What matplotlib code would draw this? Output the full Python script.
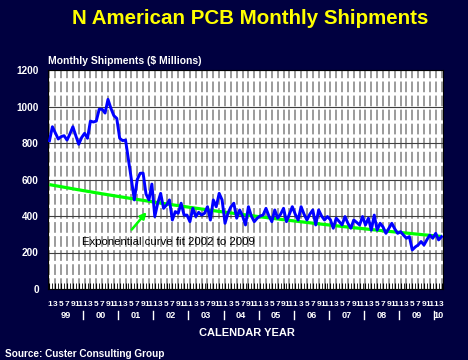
import numpy as np
import matplotlib.pyplot as plt

plt.rcParams['font.family'] = ['Liberation Sans', 'DejaVu Sans']

# monthly shipments, $ millions, Jan 1999 .. Mar 2010
ship_1999 = [812, 889, 855, 822, 835, 840, 816, 850, 889, 840, 793, 830]
ship_2000 = [853, 826, 920, 915, 920, 985, 985, 964, 1039, 990, 950, 935]
ship_2001 = [826, 813, 816, 710, 600, 488, 600, 634, 635, 520, 488, 575]
ship_2002 = [397, 470, 524, 442, 460, 488, 378, 424, 415, 470, 405, 405]
ship_2003 = [369, 442, 397, 420, 405, 415, 451, 378, 488, 451, 524, 488]
ship_2004 = [360, 415, 450, 470, 388, 433, 400, 351, 451, 400, 369, 388]
ship_2005 = [400, 405, 442, 400, 369, 433, 388, 410, 442, 369, 410, 451]
ship_2006 = [410, 378, 451, 410, 378, 410, 433, 351, 433, 400, 378, 397]
ship_2007 = [380, 333, 388, 370, 351, 397, 360, 333, 378, 365, 351, 397]
ship_2008 = [351, 388, 323, 405, 323, 360, 340, 305, 333, 360, 330, 305]
ship_2009 = [314, 295, 278, 287, 214, 230, 241, 260, 241, 270, 296, 278]
ship_2010 = [305, 269, 287]

years = ['99', '00', '01', '02', '03', '04', '05', '06', '07', '08', '09', '10']
month_labels = ['1', '3', '5', '7', '9', '11']

# exponential fit 2002-2009 as drawn: value at first and last month
fit_start = 572
fit_end = 288

shipments = np.array(ship_1999 + ship_2000 + ship_2001 + ship_2002 + ship_2003
                     + ship_2004 + ship_2005 + ship_2006 + ship_2007 + ship_2008
                     + ship_2009 + ship_2010)
months = np.arange(len(shipments))
trend = fit_start * (fit_end / fit_start) ** (months / months[-1])

navy = '#000040'
fig = plt.figure(figsize=(4.68, 3.6), dpi=100, facecolor=navy)
ax = fig.add_axes([48 / 468, 1 - 289 / 360, 395 / 468, 219 / 360])
ax.set_facecolor('white')

ax.plot(months, trend, color='#00ff00', lw=2.3, zorder=3, solid_capstyle='butt')
ax.plot(months, shipments, color='#0000ff', lw=2.1, zorder=4)

ax.set_xlim(-0.5, len(shipments) - 0.5)
ax.set_ylim(0, 1200)
ax.set_yticks(range(0, 1201, 200))
ax.tick_params(axis='y', length=0, pad=6.5, labelcolor='white', labelsize=7.2)
for lab in ax.get_yticklabels():
    lab.set_fontweight('bold')

major = [m for m in months if m % 2 == 0]
ax.set_xticks(major)
ax.set_xticklabels([month_labels[(m % 12) // 2] for m in major],
                   fontsize=6.0, fontweight='bold', color='white')
ax.set_xticks(months, minor=True)
ax.tick_params(axis='x', which='both', direction='in', length=4,
               color='black', pad=8.5)

ax.grid(axis='y', color='#404040', lw=0.8, zorder=1)
ax.grid(axis='x', which='major', color='#808080', lw=1.1,
        linestyle=(0, (7, 2.2)), zorder=1)
for s in ax.spines.values():
    s.set_color('black')
    s.set_linewidth(0.8)

# year labels and separators under the month labels
trans = ax.get_xaxis_transform()
for k, yr in enumerate(years):
    first = 12 * k
    last = min(12 * k + 11, months[-1])
    ax.text((first + last) / 2, -0.119, yr, transform=trans, ha='center',
            va='center', color='white', fontsize=6.6, fontweight='bold')
    if k > 0:
        ax.plot([first - 0.5, first - 0.5], [-0.100, -0.139], transform=trans,
                color='white', lw=1.0, clip_on=False)

ax.text(11, 257, 'Exponential curve fit 2002 to 2009', fontsize=8.2,
        color='black', va='center', ha='left', zorder=5)
ax.annotate('', xy=(33.8, 433), xytext=(27.5, 314),
            arrowprops=dict(arrowstyle='-|>', color='#00ff00', lw=1.8,
                            mutation_scale=9), zorder=5)

fig.text(250 / 468, 1 - 19 / 360, 'N American PCB Monthly Shipments',
         ha='center', va='center', color='#ffff00', fontsize=14.8,
         fontweight='bold')
fig.text(48 / 468, 1 - 60.5 / 360, 'Monthly Shipments ($ Millions)',
         ha='left', va='center', color='white', fontsize=7.5, fontweight='bold')
fig.text(247 / 468, 1 - 333 / 360, 'CALENDAR YEAR', ha='center', va='center',
         color='white', fontsize=8, fontweight='bold')
fig.text(5 / 468, 1 - 354 / 360, 'Source: Custer Consulting Group',
         ha='left', va='center', color='white', fontsize=7.2, fontweight='bold')

fig.savefig('out.png', dpi=100, facecolor=navy)
